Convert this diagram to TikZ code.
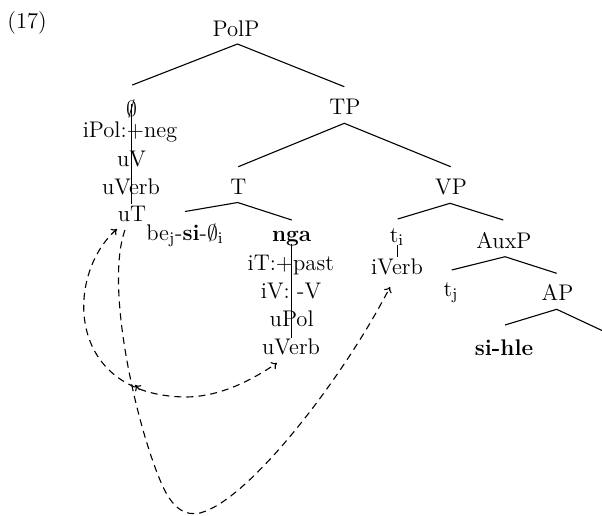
\documentclass[tikz,border=0pt]{standalone}
\usetikzlibrary{arrows.meta}
\begin{document}
\begin{tikzpicture}[x=0.5pt,y=-0.5pt,
  font=\fontsize{11.3}{13}\selectfont,
  >={To[length=2.6pt,width=4.2pt]},
  lbl/.style={anchor=base, inner sep=0pt},
  edge/.style={line width=0.55pt},
  stem/.style={line width=0.45pt},
  agree/.style={line width=0.55pt, dash pattern=on 3.5pt off 2.5pt},
]
\useasboundingbox (0,0) rectangle (602,516);

% labels
\node[lbl, anchor=base west] (ex) at (7,28) {(17)};
\node[lbl] (PolP) at (236,36.5) {PolP};
\node[lbl] (TP) at (345,114) {TP};
\node[lbl] (T) at (238.3,194) {T};
\node[lbl] (VP) at (451,194) {VP};

\node[lbl] (empty) at (131.5,116) {$\emptyset$};
\node[lbl] (iPol) at (130,137.7) {iPol:+neg};
\node[lbl] (uV) at (131.5,166.7) {uV};
\node[lbl] (uVerbA) at (131,194.3) {uVerb};
\node[lbl] (uT) at (132,221.7) {uT};

\node[lbl] (be) at (185,240) {be$_{\mathrm{j}}$-\textbf{si}-$\emptyset_{\mathrm{i}}$};

\node[lbl] (nga) at (291.7,241.5) {\textbf{nga}};
\node[lbl] (iT) at (290.8,270) {iT:+past};
\node[lbl] (iV) at (291,298.3) {iV: -V};
\node[lbl] (uPol) at (291.7,326) {uPol};
\node[lbl] (uVerbB) at (291,354.3) {uVerb};

\node[lbl] (ti) at (397,242.5) {t$_{\mathrm{i}}$};
\node[lbl] (iVerb) at (397,274.3) {iVerb};

\node[lbl] (AuxP) at (504,248) {AuxP};
\node[lbl] (tj) at (451,296) {t$_{\mathrm{j}}$};
\node[lbl] (AP) at (557.5,300) {AP};
\node[lbl] (sihle) at (504,355) {\textbf{si-hle}};

% edge end points
\coordinate (PolPs) at (237.5,44);
\coordinate (emptyn) at (132.3,85);
\coordinate (TPn) at (344.3,86.7);
\coordinate (TPs) at (344.3,123.3);
\coordinate (Tn) at (238.3,166.7);
\coordinate (VPn) at (450.7,166.7);
\coordinate (Ts) at (237.7,202.5);
\coordinate (ben) at (185,211.5);
\coordinate (ngan) at (291.7,220);
\coordinate (VPs) at (450,203.3);
\coordinate (tin) at (397.7,219);
\coordinate (AuxPn) at (503.3,220);
\coordinate (AuxPs) at (505,256.7);
\coordinate (tjn) at (451.7,270);
\coordinate (APn) at (556.7,273.3);
\coordinate (APs) at (556.7,309.3);
\coordinate (sihlen) at (505,325);
\coordinate (offright) at (602,330.5);

\draw[edge] (emptyn) -- (PolPs) -- (TPn);
\draw[edge] (Tn) -- (TPs) -- (VPn);
\draw[edge] (ben) -- (Ts) -- (ngan);
\draw[edge] (tin) -- (VPs) -- (AuxPn);
\draw[edge] (tjn) -- (AuxPs) -- (APn);
\draw[edge] (sihlen) -- (APs) -- (offright);

% feature stems
\coordinate (stemAt) at (131.3,104);
\coordinate (stemAb) at (131.3,204);
\coordinate (stemBt) at (291.7,244);
\coordinate (stemBb) at (291.7,338);
\coordinate (stemCt) at (397.7,245);
\coordinate (stemCb) at (397.7,257);
\draw[stem] (stemAt) -- (stemAb);
\draw[stem] (stemBt) -- (stemBb);
\draw[stem] (stemCt) -- (stemCb);

% agree arrows
\coordinate (uTa) at (117,229);
\coordinate (uTb) at (125,230);
\coordinate (uVerbBa) at (277,363);
\coordinate (iVerba) at (390,287);
\coordinate (crossTail) at (139.5,389.5);
\coordinate (crossTip) at (135,385);

\draw[agree, <->] (uTa) .. controls (65,275) and (65,395) .. (185,397)
  .. controls (220,397) and (252,380) .. (uVerbBa);
\draw[agree, ->] (uTb) .. controls (105,285) and (135,420) .. (160,480)
  .. controls (172,510) and (186,516) .. (200,513)
  .. controls (250,500) and (345,375) .. (iVerba);
\draw[line width=0.55pt, ->] (crossTail) -- (crossTip);
\end{tikzpicture}
\end{document}
